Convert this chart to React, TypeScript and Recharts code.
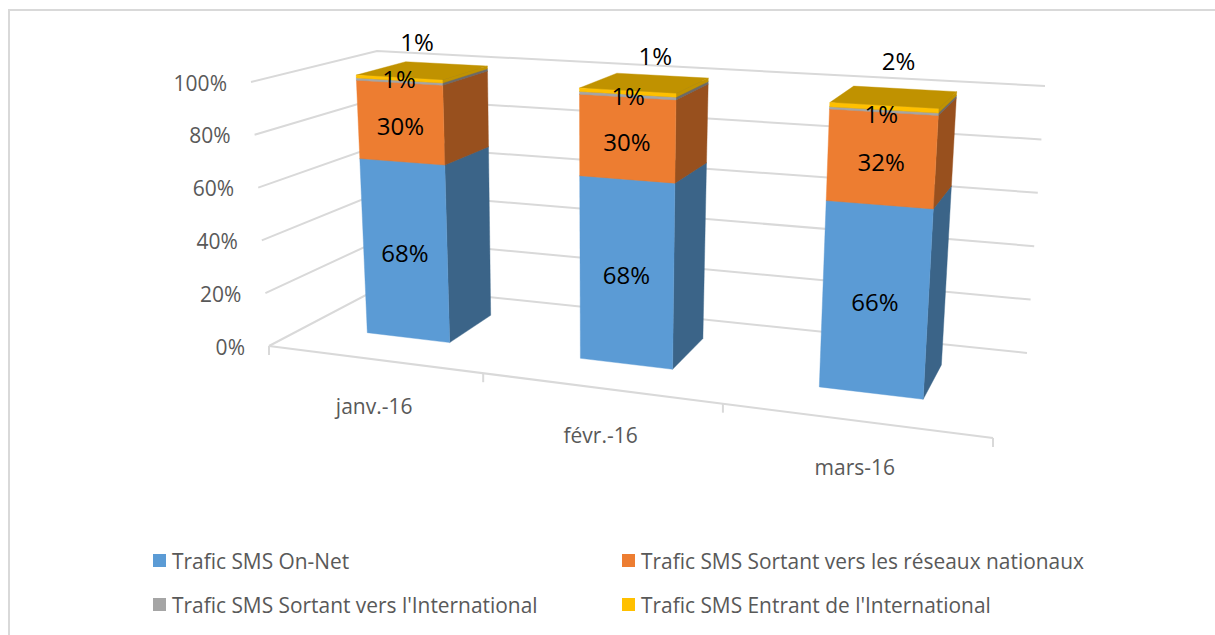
import { BarChart, Bar, CartesianGrid, XAxis, YAxis, Legend, LabelList } from "recharts";

const months = ["janv.-16", "févr.-16", "mars-16"];
const onNet = [67.6, 67.5, 65.5];
const sortantNat = [30.4, 30.2, 32.2];
const sortantInt = [0.9, 1.0, 0.8];
const entrantInt = [1.1, 1.3, 1.5];
const yTicks = [0, 20, 40, 60, 80, 100];

const chartData = months.map((month, i) => ({
  month,
  onNet: onNet[i],
  sortantNat: sortantNat[i],
  sortantInt: sortantInt[i],
  entrantInt: entrantInt[i],
}));

const WIDTH = 1215;
const HEIGHT = 635;
const FONT = "'Open Sans', sans-serif";
const GRID = "#d9d9d9";
const MUTED = "#595959";

// flat plot rectangle that recharts lays out, everything is then projected to the 3d box
const PLOT = { left: 100, top: 40, width: 900, height: 400 };
const X_AXIS_H = 30;
const Y_AXIS_W = 40;

// corners of the 3d box on screen: [front/back][left/right][floor/top]
const BOX = {
  fl0: [269, 346], fr0: [993, 438], bl0: [383, 286], br0: [1027, 353],
  fl1: [251, 82], fr1: [1013, 128], bl1: [377, 51], br1: [1045, 86],
};
const PERSPECTIVE = 1.19;
const BAR_FRONT = 0.34;
const BAR_BACK = 0.76;

const mix = (a: number[], b: number[], k: number) => [a[0] + (b[0] - a[0]) * k, a[1] + (b[1] - a[1]) * k];

// t: along categories, v: along values, z: depth (all 0..1)
function project(t: number, v: number, z: number) {
  const s = t / (t + PERSPECTIVE * (1 - t));
  const floor = mix(mix(BOX.fl0, BOX.fr0, s), mix(BOX.bl0, BOX.br0, s), z);
  const top = mix(mix(BOX.fl1, BOX.fr1, s), mix(BOX.bl1, BOX.br1, s), z);
  return mix(floor, top, v);
}

const toT = (x: number) => (x - PLOT.left) / PLOT.width;
const toV = (y: number) => (PLOT.top + PLOT.height - y) / PLOT.height;

const pts = (list: number[][]) => list.map((p) => `${p[0].toFixed(1)},${p[1].toFixed(1)}`).join(" ");

function Box3D(props: any) {
  const { x, y, width, height, fill, side } = props;
  const t0 = toT(x);
  const t1 = toT(x + width);
  const v0 = toV(y + height);
  const v1 = toV(y);
  const front = [project(t0, v0, BAR_FRONT), project(t1, v0, BAR_FRONT), project(t1, v1, BAR_FRONT), project(t0, v1, BAR_FRONT)];
  const right = [project(t1, v0, BAR_FRONT), project(t1, v0, BAR_BACK), project(t1, v1, BAR_BACK), project(t1, v1, BAR_FRONT)];
  const top = [project(t0, v1, BAR_FRONT), project(t1, v1, BAR_FRONT), project(t1, v1, BAR_BACK), project(t0, v1, BAR_BACK)];
  return (
    <g>
      <polygon points={pts(right)} fill={side} stroke={side} strokeWidth={0.4} />
      <polygon points={pts(top)} fill={side} stroke={side} strokeWidth={0.4} />
      <polygon points={pts(front)} fill={fill} stroke={fill} strokeWidth={0.4} />
    </g>
  );
}

function GridLine(props: any) {
  const v = toV(props.y1);
  const a = project(0, v, 0);
  const b = project(0, v, 1);
  const c = project(1, v, 1);
  const front = project(1, v, 0);
  return (
    <g key={props.key ?? props.index}>
      <polyline points={pts([a, b, c])} fill="none" stroke={GRID} strokeWidth={2} />
      {v < 0.001 && <line x1={a[0]} y1={a[1]} x2={front[0]} y2={front[1]} stroke={GRID} strokeWidth={2} />}
    </g>
  );
}

function YTick(props: any) {
  const p = project(0, toV(props.y), 0);
  return (
    <text x={p[0] - 24} y={p[1] + 3} textAnchor="end" dominantBaseline="middle" fontFamily={FONT} fontSize={21} fill={MUTED}>
      {props.payload.value}%
    </text>
  );
}

function XTick(props: any) {
  const step = PLOT.width / months.length;
  const t = toT(props.x);
  const p = project(t, 0, 0);
  const edgeT = toT(props.x - step / 2);
  const edge = project(edgeT, 0, 0);
  const last = props.index === months.length - 1 ? project(1, 0, 0) : null;
  return (
    <g>
      <line x1={edge[0]} y1={edge[1]} x2={edge[0]} y2={edge[1] + 9} stroke={GRID} strokeWidth={2} />
      {last && <line x1={last[0]} y1={last[1]} x2={last[0]} y2={last[1] + 9} stroke={GRID} strokeWidth={2} />}
      <text x={p[0] + 1} y={p[1] + 49} textAnchor="middle" dominantBaseline="middle" fontFamily={FONT} fontSize={21} fill={MUTED}>
        {props.payload.value}
      </text>
    </g>
  );
}

// nudges the labels the way the original sits them
const barLabel = (nudge: (i: number) => number[]) => (props: any) => {
  const { x, y, width, height, value, index } = props;
  const p = project(toT(x + width / 2), toV(y + height / 2), BAR_FRONT);
  const d = nudge(index);
  return (
    <text x={p[0] + d[0]} y={p[1] + d[1]} textAnchor="middle" dominantBaseline="middle" fontFamily={FONT} fontSize={24} fill="#000">
      {Math.round(value)}%
    </text>
  );
};

const midLabelNudge = [0, 6];
const grayLabelNudge = [[0, 0], [1, 3], [-2, 6]];
const topLabelNudge = [[18, -34], [28, -34], [15, -44]];

function LegendBlock({ payload }: any) {
  return (
    <div style={{ display: "grid", gridTemplateColumns: "469px 500px", rowGap: 19, fontFamily: FONT, fontSize: 20.9, color: MUTED }}>
      {payload.map((item: any) => (
        <div key={item.value} style={{ display: "flex", alignItems: "center", height: 25, whiteSpace: "nowrap" }}>
          <span style={{ width: 13, height: 13, background: item.color, marginRight: 6, flex: "none" }} />
          {item.value}
        </div>
      ))}
    </div>
  );
}

export default function App() {
  return (
    <div style={{ position: "absolute", left: 0, top: 0, width: WIDTH, height: HEIGHT, background: "#fff", overflow: "hidden" }}>
      <div style={{ position: "absolute", left: 8, top: 9, right: 0, bottom: -4, borderTop: `2px solid ${GRID}`, borderLeft: `2px solid ${GRID}` }} />
      <BarChart
        width={WIDTH}
        height={HEIGHT}
        data={chartData}
        barCategoryGap="30%"
        margin={{
          left: PLOT.left - Y_AXIS_W,
          top: PLOT.top,
          right: WIDTH - PLOT.left - PLOT.width,
          bottom: HEIGHT - PLOT.top - PLOT.height - X_AXIS_H,
        }}
      >
        <CartesianGrid vertical={false} horizontal={GridLine} />
        <XAxis dataKey="month" axisLine={false} tickLine={false} tick={XTick} height={X_AXIS_H} interval={0} />
        <YAxis domain={[0, 100]} ticks={yTicks} axisLine={false} tickLine={false} tick={YTick} width={Y_AXIS_W} />
        <Legend
          content={LegendBlock}
          layout="horizontal"
          verticalAlign="middle"
          itemSorter={null}
          wrapperStyle={{ left: 153, top: 548, width: 1000 }}
        />
        <Bar dataKey="onNet" name="Trafic SMS On-Net" stackId="a" fill="#5b9bd5" isAnimationActive={false} shape={(p: any) => <Box3D {...p} side="#3b6488" />}>
          <LabelList dataKey="onNet" content={barLabel(() => midLabelNudge)} />
        </Bar>
        <Bar dataKey="sortantNat" name="Trafic SMS Sortant vers les réseaux nationaux" stackId="a" fill="#ed7d31" isAnimationActive={false} shape={(p: any) => <Box3D {...p} side="#98501e" />}>
          <LabelList dataKey="sortantNat" content={barLabel(() => midLabelNudge)} />
        </Bar>
        <Bar dataKey="sortantInt" name="Trafic SMS Sortant vers l'International" stackId="a" fill="#a5a5a5" isAnimationActive={false} shape={(p: any) => <Box3D {...p} side="#6a6a6a" />}>
          <LabelList dataKey="sortantInt" content={barLabel((i) => grayLabelNudge[i])} />
        </Bar>
        <Bar dataKey="entrantInt" name="Trafic SMS Entrant de l'International" stackId="a" fill="#ffc000" isAnimationActive={false} shape={(p: any) => <Box3D {...p} side="#c09200" />}>
          <LabelList dataKey="entrantInt" content={barLabel((i) => topLabelNudge[i])} />
        </Bar>
      </BarChart>
    </div>
  );
}
